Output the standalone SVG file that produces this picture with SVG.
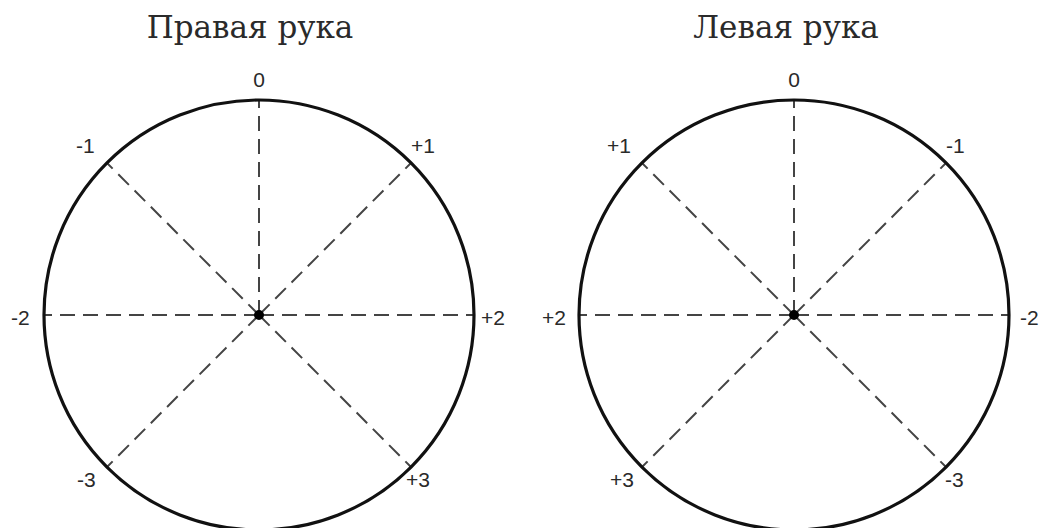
<svg xmlns="http://www.w3.org/2000/svg" width="1044" height="528" viewBox="0 0 1044 528">
<style>
.title{font-family:"DejaVu Serif","Liberation Serif",serif;font-size:31px;fill:#2a2a2a;text-anchor:middle}
.lbl{font-family:"Liberation Sans",Arial,sans-serif;font-size:21px;fill:#2a2a2a}
.ring{fill:none;stroke:#111;stroke-width:3.2}
.dash{stroke:#444;stroke-width:2;stroke-dasharray:15 8;fill:none}
.dot{fill:#000}
</style>
<rect width="1044" height="528" fill="#fff"/>
<g id="right-hand">
<text class="title" x="250" y="38">Правая рука</text>
<g id="right-connectors">
<line class="dash" x1="259" y1="315" x2="259" y2="100"/>
<line class="dash" x1="259" y1="315" x2="44" y2="315"/>
<line class="dash" x1="259" y1="315" x2="474" y2="315"/>
<line class="dash" x1="259" y1="315" x2="107" y2="163"/>
<line class="dash" x1="259" y1="315" x2="411" y2="163"/>
<line class="dash" x1="259" y1="315" x2="107" y2="467"/>
<line class="dash" x1="259" y1="315" x2="411" y2="467"/>
</g>
<circle class="ring" cx="259" cy="315" r="215"/>
<circle class="dot" cx="259" cy="315" r="5"/>
<text class="lbl" x="259" y="87" text-anchor="middle">0</text>
<text class="lbl" x="76" y="153">-1</text>
<text class="lbl" x="411" y="153">+1</text>
<text class="lbl" x="11" y="325">-2</text>
<text class="lbl" x="481" y="325">+2</text>
<text class="lbl" x="77" y="487">-3</text>
<text class="lbl" x="406" y="487">+3</text>
</g>
<g id="left-hand">
<text class="title" x="786" y="38">Левая рука</text>
<g id="left-connectors">
<line class="dash" x1="794" y1="315" x2="794" y2="100"/>
<line class="dash" x1="794" y1="315" x2="579" y2="315"/>
<line class="dash" x1="794" y1="315" x2="1009" y2="315"/>
<line class="dash" x1="794" y1="315" x2="642" y2="163"/>
<line class="dash" x1="794" y1="315" x2="946" y2="163"/>
<line class="dash" x1="794" y1="315" x2="642" y2="467"/>
<line class="dash" x1="794" y1="315" x2="946" y2="467"/>
</g>
<circle class="ring" cx="794" cy="315" r="215"/>
<circle class="dot" cx="794" cy="315" r="5"/>
<text class="lbl" x="794" y="87" text-anchor="middle">0</text>
<text class="lbl" x="607" y="153">+1</text>
<text class="lbl" x="946" y="153">-1</text>
<text class="lbl" x="542" y="325">+2</text>
<text class="lbl" x="1020" y="325">-2</text>
<text class="lbl" x="610" y="487">+3</text>
<text class="lbl" x="945" y="487">-3</text>
</g>
</svg>
